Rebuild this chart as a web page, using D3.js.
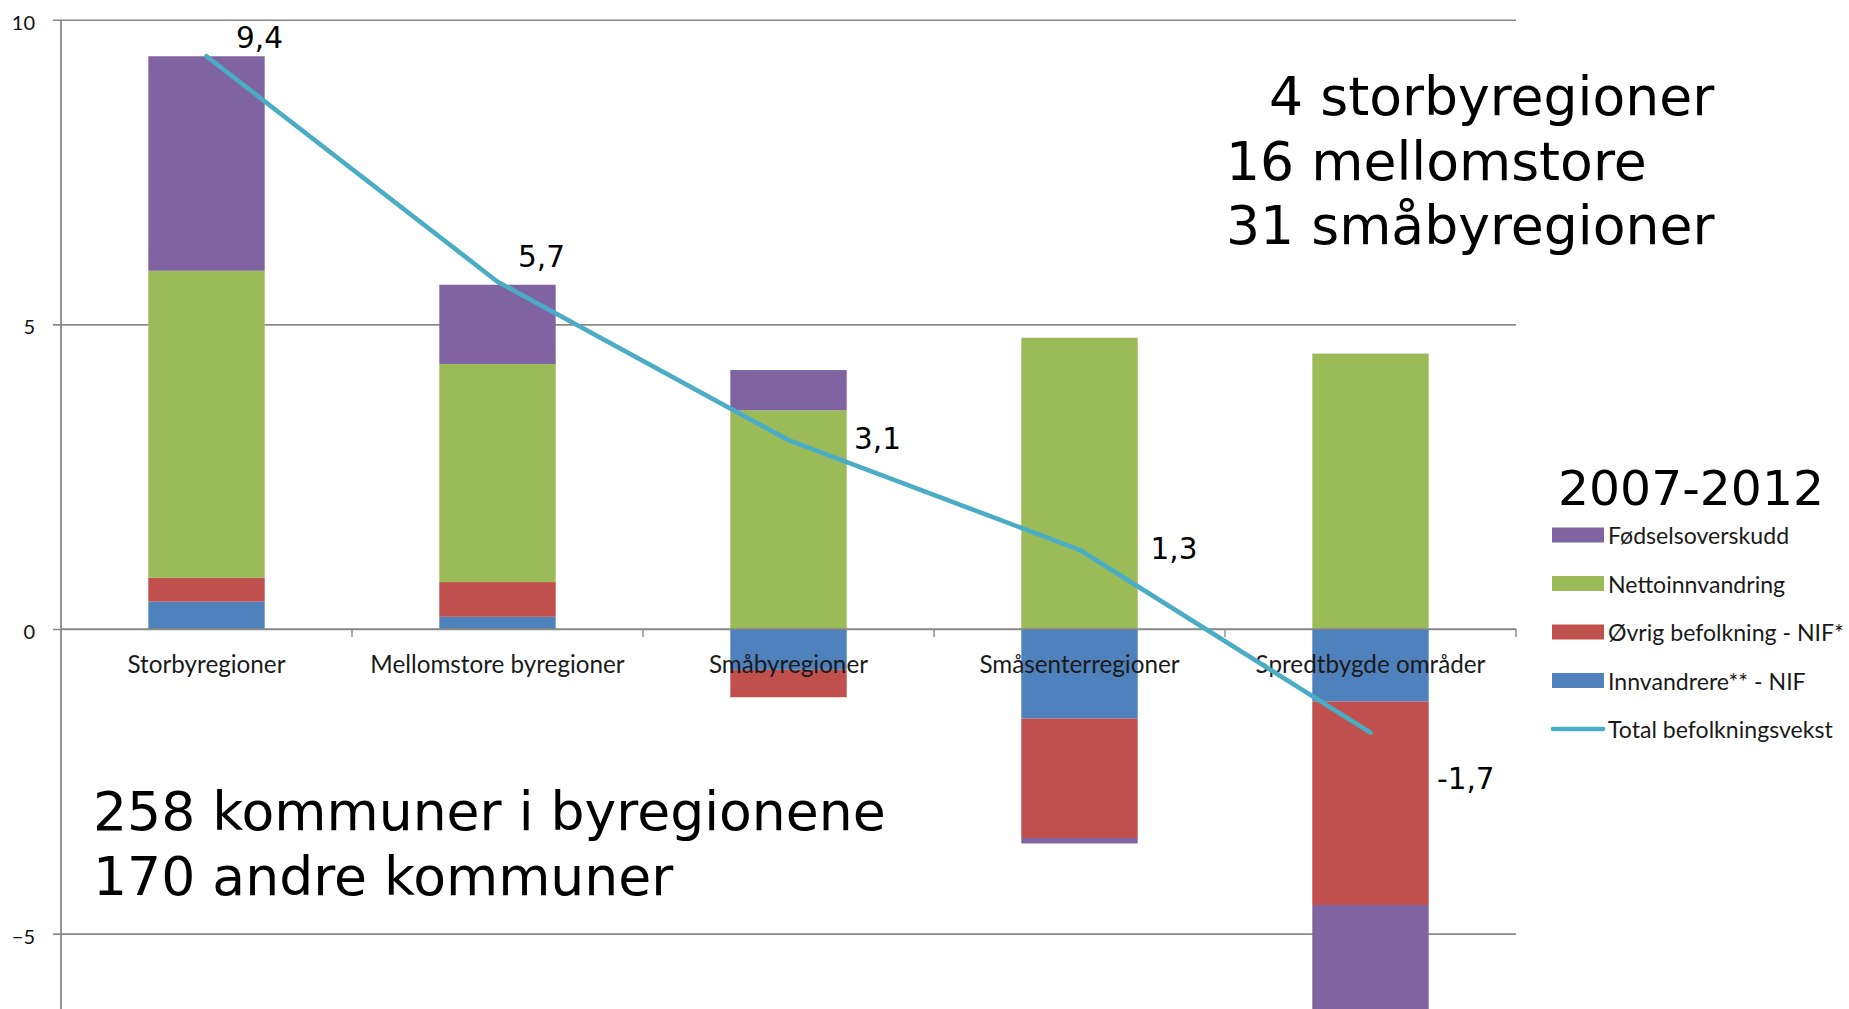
<!DOCTYPE html>
<html><head><meta charset="utf-8">
<script src="https://cdn.jsdelivr.net/npm/d3@7"></script>
<style>html,body{margin:0;padding:0;background:#fff;overflow:hidden}</style>
</head><body>
<svg id="chart" width="1849" height="1009"></svg>
<script>
// ---- data ----
const categories = ["Storbyregioner", "Mellomstore byregioner", "Småbyregioner", "Småsenterregioner", "Spredtbygde områder"];
const innvandrere = [0.45, 0.20, -0.67, -1.47, -1.19];      // Innvandrere** - NIF
const ovrigBefolkning = [0.39, 0.57, -0.45, -1.96, -3.34];  // Øvrig befolkning - NIF*
const nettoinnvandring = [5.04, 3.58, 3.59, 4.78, 4.52];    // Nettoinnvandring
const fodselsoverskudd = [3.52, 1.30, 0.66, -0.09, -1.75];  // Fødselsoverskudd
const totalVekst = [9.4, 5.7, 3.1, 1.3, -1.7];               // Total befolkningsvekst
const totalLabels = ["9,4", "5,7", "3,1", "1,3", "-1,7"];
const yTicks = [-5, 0, 5, 10];
const seriesNames = ["Innvandrere** - NIF", "Øvrig befolkning - NIF*", "Nettoinnvandring", "Fødselsoverskudd"];
const lineName = "Total befolkningsvekst";
const legendTitle = "2007-2012";
const noteTopRight = ["  4 storbyregioner", "16 mellomstore", "31 småbyregioner"];
const noteBottomLeft = ["258 kommuner i byregionene", "170 andre kommuner"];

// ---- layout / style ----
const W = 1849, H = 1009;
const seriesColors = ["#4F81BD", "#C0504D", "#9BBB59", "#8064A2"];
const lineColor = "#4BACC6";
const gridColor = "#8a8a8a";
const plot = {left: 61, right: 1516, top: 19.5, zeroY: 629};
const pxPerUnit = 60.93;
const labelOffsets = [[29.5, -8], [20.5, -15], [65.5, 9], [71, 9], [66.5, 56]];
const noteIndent = [9, 0, 0];
const catFont = "Lato, 'Open Sans', sans-serif";
const bigFont = "'DejaVu Sans', Verdana, sans-serif";

const svg = d3.select("#chart");

function fitSize(family, text, targetW) {
  const t = svg.append("text").attr("font-family", family).attr("font-size", 100)
    .style("white-space", "pre").text(text);
  const w = t.node().getComputedTextLength();
  t.remove();
  return 100 * targetW / w;
}

const yMin = -6.6;
const y = d3.scaleLinear()
  .domain([yMin, 10])
  .range([plot.zeroY - yMin * pxPerUnit, plot.zeroY - 10 * pxPerUnit]);

const x = d3.scaleBand().domain(categories)
  .range([plot.left, plot.right]).paddingInner(0.6).paddingOuter(0.3);
const step = x.step();
const cx = c => x(c) + x.bandwidth() / 2;

// stacked data
const rows = categories.map((c, i) => ({
  cat: c,
  s0: innvandrere[i], s1: ovrigBefolkning[i], s2: nettoinnvandring[i], s3: fodselsoverskudd[i]
}));
const stack = d3.stack().keys(["s0", "s1", "s2", "s3"]).offset(d3.stackOffsetDiverging);
const stacked = stack(rows);

// gridlines (y axis)
const yAxis = d3.axisLeft(y).tickValues(yTicks).tickSize(plot.right - plot.left + 8).tickFormat(d3.format("d"));
const gy = svg.append("g").attr("transform", `translate(${plot.right},0)`).call(yAxis);
gy.select(".domain").remove();
gy.selectAll(".tick line").attr("stroke", gridColor).attr("stroke-width", 1.6);
gy.selectAll(".tick text").remove();

// y tick labels
svg.append("g").selectAll("text").data(yTicks).join("text")
  .attr("x", 35).attr("y", d => y(d) + 2)
  .attr("text-anchor", "end").attr("dominant-baseline", "central")
  .attr("font-family", catFont).attr("font-size", 20).attr("fill", "#111")
  .text(d => d3.format("d")(d));

// bars
svg.append("g").selectAll("g").data(stacked).join("g")
  .attr("fill", (d, i) => seriesColors[i])
  .selectAll("rect").data(d => d).join("rect")
  .attr("x", d => x(d.data.cat))
  .attr("width", x.bandwidth())
  .attr("y", d => y(Math.max(d[0], d[1])))
  .attr("height", d => Math.abs(y(d[0]) - y(d[1])));

// y axis line
svg.append("line")
  .attr("x1", plot.left).attr("x2", plot.left)
  .attr("y1", y(10)).attr("y2", y(yMin))
  .attr("stroke", gridColor).attr("stroke-width", 1.8);

// x axis (zero line) + category ticks
const boundaries = categories.map(c => x(c) - step * x.paddingInner() / 2)
  .concat([x(categories[categories.length - 1]) + x.bandwidth() + step * x.paddingInner() / 2]);
svg.append("line")
  .attr("x1", plot.left).attr("x2", plot.right)
  .attr("y1", y(0)).attr("y2", y(0))
  .attr("stroke", gridColor).attr("stroke-width", 1.6);
svg.append("g").selectAll("line").data(boundaries.slice(1)).join("line")
  .attr("x1", d => d).attr("x2", d => d)
  .attr("y1", y(0)).attr("y2", y(0) + 8)
  .attr("stroke", gridColor).attr("stroke-width", 1.4);

// category labels
const catSize = fitSize(catFont, categories[0], 158);
svg.append("g").selectAll("text").data(categories).join("text")
  .attr("x", d => cx(d)).attr("y", y(0) + 44)
  .attr("text-anchor", "middle")
  .attr("font-family", catFont).attr("font-size", catSize).attr("fill", "#1a1a1a")
  .text(d => d);

// total line
const line = d3.line().x((d, i) => cx(categories[i])).y(d => y(d));
svg.append("path").datum(totalVekst)
  .attr("d", line).attr("fill", "none")
  .attr("stroke", lineColor).attr("stroke-width", 4.6)
  .attr("stroke-linejoin", "round").attr("stroke-linecap", "round");

// total labels
svg.append("g").selectAll("text").data(totalVekst).join("text")
  .attr("x", (d, i) => cx(categories[i]) + labelOffsets[i][0])
  .attr("y", (d, i) => y(d) + labelOffsets[i][1])
  .attr("font-family", bigFont).attr("font-size", 29.5).attr("fill", "#000")
  .text((d, i) => totalLabels[i]);

// notes
svg.append("g").selectAll("text").data(noteTopRight).join("text")
  .attr("x", (d, i) => 1226 + noteIndent[i]).attr("y", (d, i) => 115 + i * 64.5)
  .style("white-space", "pre")
  .attr("font-family", bigFont).attr("font-size", 53.6).attr("fill", "#000")
  .text(d => d);
svg.append("g").selectAll("text").data(noteBottomLeft).join("text")
  .attr("x", 93).attr("y", (d, i) => 830 + i * 65)
  .attr("font-family", bigFont).attr("font-size", 53.6).attr("fill", "#000")
  .text(d => d);

// legend
const lg = svg.append("g");
lg.append("text").attr("x", 1558).attr("y", 505)
  .attr("font-family", bigFont).attr("font-size", 48.8).attr("fill", "#000")
  .text(legendTitle);
const legendItems = [3, 2, 1, 0].map(i => ({name: seriesNames[i], color: seriesColors[i], type: "rect"}))
  .concat([{name: lineName, color: lineColor, type: "line"}]);
const legSize = fitSize(catFont, seriesNames[1], 236);
const item = lg.selectAll("g.item").data(legendItems).join("g").attr("class", "item")
  .attr("transform", (d, i) => `translate(1552, ${535 + i * 48.5})`);
item.filter(d => d.type === "rect").append("rect")
  .attr("x", 0).attr("y", -7.5).attr("width", 52).attr("height", 15).attr("fill", d => d.color);
item.filter(d => d.type === "line").append("line")
  .attr("x1", 1).attr("x2", 51).attr("y1", 0).attr("y2", 0)
  .attr("stroke", d => d.color).attr("stroke-width", 4.6).attr("stroke-linecap", "round");
item.append("text").attr("x", 56).attr("y", 0)
  .attr("dominant-baseline", "central")
  .attr("font-family", catFont).attr("font-size", legSize).attr("fill", "#1a1a1a")
  .text(d => d.name);
</script>
</body></html>
